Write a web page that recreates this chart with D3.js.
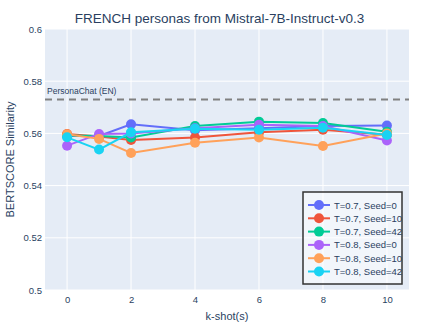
<!DOCTYPE html>
<html>
<head>
<script src="https://cdn.jsdelivr.net/npm/d3@7"></script>
<style>
  body { margin: 0; background: #fff; }
  text { font-family: "Liberation Sans", Arial, sans-serif; fill: #2a3f5f; }
</style>
</head>
<body>
<svg width="439" height="329"></svg>
<script>
const kShots = [0, 1, 2, 4, 6, 8, 10]
const seriesNames = ['T=0.7, Seed=0', 'T=0.7, Seed=10', 'T=0.7, Seed=42', 'T=0.8, Seed=0', 'T=0.8, Seed=10', 'T=0.8, Seed=42']
const seriesColors = ['#636efa', '#EF553B', '#00cc96', '#ab63fa', '#FFA15A', '#19d3f3']
const t07s0  = [0.5590, 0.5590, 0.5635, 0.5612, 0.5620, 0.5628, 0.5630]
const t07s10 = [0.5598, 0.5588, 0.5575, 0.5584, 0.5604, 0.5614, 0.5595]
const t07s42 = [0.5592, 0.5590, 0.5584, 0.5628, 0.5645, 0.5640, 0.5606]
const t08s0  = [0.5553, 0.5598, 0.5600, 0.5620, 0.5633, 0.5628, 0.5573]
const t08s10 = [0.5597, 0.5579, 0.5525, 0.5564, 0.5584, 0.5552, 0.5600]
const t08s42 = [0.5585, 0.5538, 0.5604, 0.5618, 0.5614, 0.5622, 0.5594]
const xTicks = [0, 2, 4, 6, 8, 10]
const yTicks = [0.5, 0.52, 0.54, 0.56, 0.58, 0.6]
const baseline = 0.573
const baselineLabel = 'PersonaChat (EN)'

const allSeries = [t07s0, t07s10, t07s42, t08s0, t08s10, t08s42]

const svg = d3.select('svg')
const margin = {top: 29, right: 30, bottom: 39, left: 45}
const width = +svg.attr('width')
const height = +svg.attr('height')
const innerWidth = width - margin.left - margin.right
const innerHeight = height - margin.top - margin.bottom

const xScale = d3.scaleLinear().domain([-0.69, 10.69]).range([0, innerWidth])
const yScale = d3.scaleLinear().domain([0.5, 0.6]).range([innerHeight, 0])

const g = svg.append('g').attr('transform', `translate(${margin.left}, ${margin.top})`)

g.append('rect')
    .attr('width', innerWidth)
    .attr('height', innerHeight)
    .attr('fill', '#e5ecf6')

// grid
g.selectAll('.xgrid').data(xTicks).join('line')
    .attr('x1', d => xScale(d)).attr('x2', d => xScale(d))
    .attr('y1', 0).attr('y2', innerHeight)
    .attr('stroke', '#fff').attr('stroke-width', 1)
g.selectAll('.ygrid').data(yTicks).join('line')
    .attr('x1', 0).attr('x2', innerWidth)
    .attr('y1', d => yScale(d)).attr('y2', d => yScale(d))
    .attr('stroke', '#fff').attr('stroke-width', 1)

// axes
const xAxis = g.append('g')
    .attr('transform', `translate(0, ${innerHeight})`)
    .call(d3.axisBottom(xScale).tickValues(xTicks).tickSize(0).tickPadding(6))
const yAxis = g.append('g')
    .call(d3.axisLeft(yScale).tickValues(yTicks).tickSize(0).tickPadding(3).tickFormat(d => String(+d.toFixed(2))))
xAxis.select('.domain').remove()
yAxis.select('.domain').remove()
svg.selectAll('.tick text').attr('font-size', '9.5px').attr('font-family', null).style('fill', '#2a3f5f')

// baseline
g.append('line')
    .attr('x1', 0).attr('x2', innerWidth)
    .attr('y1', yScale(baseline)).attr('y2', yScale(baseline))
    .attr('stroke', '#808080').attr('stroke-width', 2)
    .attr('stroke-dasharray', '7,5')
g.append('text')
    .attr('x', 2).attr('y', yScale(baseline) - 5)
    .attr('font-size', '8.5px')
    .text(baselineLabel)

// lines
const line = d3.line().x((d, i) => xScale(kShots[i])).y(d => yScale(d))
allSeries.forEach((values, s) => {
    const sg = g.append('g')
    sg.append('path')
        .datum(values)
        .attr('d', line)
        .attr('fill', 'none')
        .attr('stroke', seriesColors[s])
        .attr('stroke-width', 2)
    sg.selectAll('circle').data(values).join('circle')
        .attr('cx', (d, i) => xScale(kShots[i]))
        .attr('cy', d => yScale(d))
        .attr('r', 5)
        .attr('fill', seriesColors[s])
})

// titles
svg.append('text')
    .attr('x', width / 2).attr('y', 23)
    .attr('text-anchor', 'middle')
    .attr('font-size', '13.5px')
    .text('FRENCH personas from Mistral-7B-Instruct-v0.3')
svg.append('text')
    .attr('x', margin.left + innerWidth / 2).attr('y', 320)
    .attr('text-anchor', 'middle')
    .attr('font-size', '11px')
    .text('k-shot(s)')
svg.append('text')
    .attr('transform', `translate(14, ${margin.top + innerHeight / 2}) rotate(-90)`)
    .attr('text-anchor', 'middle')
    .attr('font-size', '11px')
    .text('BERTSCORE Similarity')

// legend
const legend = svg.append('g').attr('transform', 'translate(303, 192)')
legend.append('rect')
    .attr('width', 99).attr('height', 92)
    .attr('fill', 'rgba(255,255,255,0.5)')
    .attr('stroke', '#333').attr('stroke-width', 1.5)
seriesNames.forEach((name, i) => {
    const row = legend.append('g').attr('transform', `translate(0, ${13 + i * 13.3})`)
    row.append('line').attr('x1', 5).attr('x2', 27).attr('y1', 0).attr('y2', 0)
        .attr('stroke', seriesColors[i]).attr('stroke-width', 2)
    row.append('circle').attr('cx', 16).attr('cy', 0).attr('r', 5).attr('fill', seriesColors[i])
    row.append('text').attr('x', 31).attr('y', 3.5).attr('font-size', '9.5px').text(name)
})
</script>
</body>
</html>
